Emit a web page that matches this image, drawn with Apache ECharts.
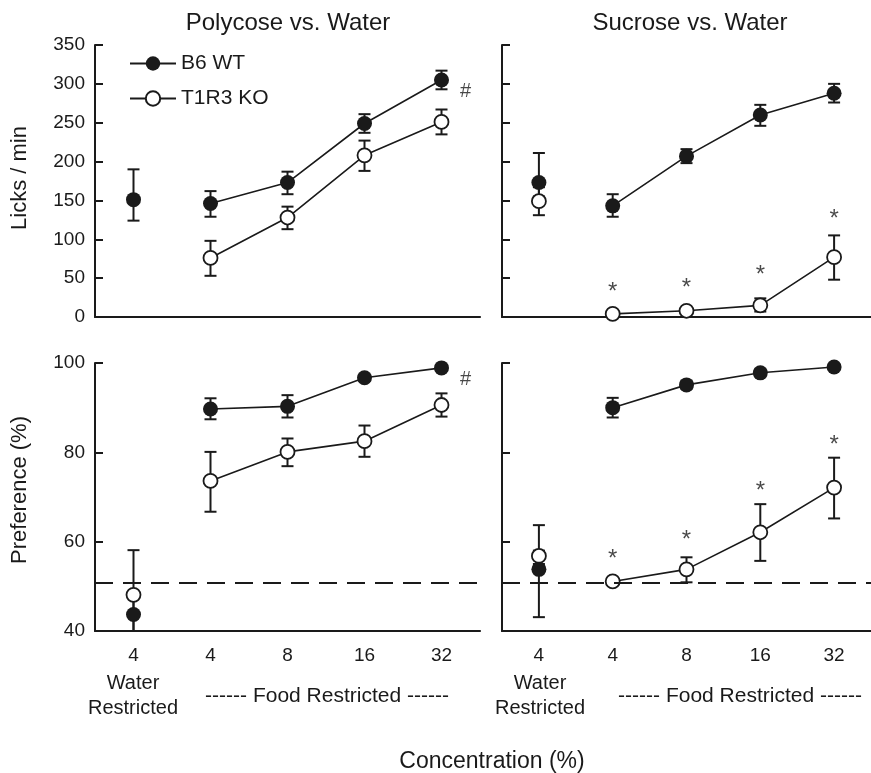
<!DOCTYPE html>
<html>
<head>
<meta charset="utf-8">
<script src="https://cdn.jsdelivr.net/npm/echarts@6/dist/echarts.min.js"></script>
<style>
  html, body { margin: 0; padding: 0; background: #fff; }
  #main { width: 871px; height: 773px; }
</style>
</head>
<body>
<div id="main"></div>
<script>
// categories: first is water restricted, the rest food restricted
var categories = ['4', '4', '8', '16', '32'];

// Polycose vs. Water, licks / min
var polyLicksWT = [151, 146, 173, 249, 305];
var polyLicksWTErr = [[124, 190], [129, 162], [158, 187], [237, 261], [293, 317]];
var polyLicksKO = [null, 76, 128, 208, 251];
var polyLicksKOErr = [null, [53, 98], [113, 142], [188, 227], [235, 267]];
var polyLicksHash = [null, null, null, null, 290];

// Sucrose vs. Water, licks / min
var sucLicksWT = [173, 143, 207, 260, 288];
var sucLicksWTErr = [[155, 211], [129, 158], [198, 216], [246, 273], [276, 300]];
var sucLicksKO = [149, 4, 8, 15, 77];
var sucLicksKOErr = [[131, 167], [2, 6], [5, 10], [7, 24], [48, 105]];
var sucLicksStars = [null, 39, 45, 61, 133];

// Polycose vs. Water, preference %
var polyPrefWT = [43.7, 89.7, 90.3, 96.7, 98.9];
var polyPrefWTErr = [[39, 48], [87.4, 92.1], [87.8, 92.8], [96, 97.4], [98.3, 99.5]];
var polyPrefKO = [48.1, 73.6, 80.1, 82.5, 90.6];
var polyPrefKOErr = [[38, 58.1], [66.7, 80.1], [76.9, 83.1], [79, 86], [88, 93.2]];
var polyPrefHash = [null, null, null, null, 96.4];

// Sucrose vs. Water, preference %
var sucPrefWT = [53.8, 90.0, 95.1, 97.8, 99.1];
var sucPrefWTErr = [[43.1, 63.7], [87.8, 92.2], [94.2, 96], [97, 98.6], [98.5, 99.7]];
var sucPrefKO = [56.8, 51.1, 53.8, 62.1, 72.1];
var sucPrefKOErr = [[55, 58], [50.5, 51.7], [50.9, 56.5], [55.7, 68.4], [65.2, 78.8]];
var sucPrefStars = [null, 57.4, 61.7, 72.5, 82.9];

var chanceLevel = 50.8;

var FONT = '"Liberation Sans", Arial, Helvetica, sans-serif';
var INK = '#1a1a1a';

var myChart = echarts.init(document.getElementById('main'));

function errRender(params, api) {
    var x = api.value(0);
    var lo = api.coord([x, api.value(1)]);
    var hi = api.coord([x, api.value(2)]);
    var w = 6;
    var st = { stroke: INK, lineWidth: 2 };
    return {
        type: 'group',
        children: [
            { type: 'line', shape: { x1: lo[0], y1: lo[1], x2: hi[0], y2: hi[1] }, style: st },
            { type: 'line', shape: { x1: lo[0] - w, y1: lo[1], x2: lo[0] + w, y2: lo[1] }, style: st },
            { type: 'line', shape: { x1: hi[0] - w, y1: hi[1], x2: hi[0] + w, y2: hi[1] }, style: st }
        ]
    };
}

function errData(arr) {
    var out = [];
    arr.forEach(function (e, i) { if (e) out.push([i, e[0], e[1]]); });
    return out;
}

function foodOnly(arr) {
    return arr.map(function (v, i) { return i === 0 ? null : v; });
}

var wtItem = { color: INK, opacity: 1 };
var koItem = { color: '#fff', borderColor: INK, borderWidth: 1.8, opacity: 1 };

function panelSeries(g, wt, wtErr, ko, koErr, marks, markText, markOffset) {
    var s = [];
    s.push({ type: 'custom', xAxisIndex: g, yAxisIndex: g, renderItem: errRender, clip: true,
        encode: { x: 0, y: [1, 2] }, data: errData(wtErr), z: 1, silent: true });
    s.push({ type: 'custom', xAxisIndex: g, yAxisIndex: g, renderItem: errRender, clip: true,
        encode: { x: 0, y: [1, 2] }, data: errData(koErr), z: 1, silent: true });
    s.push({ name: 'B6 WT', type: 'line', xAxisIndex: g, yAxisIndex: g, data: foodOnly(wt),
        symbol: 'circle', symbolSize: 15, itemStyle: wtItem, lineStyle: { color: INK, width: 1.6 }, z: 3 });
    s.push({ name: 'T1R3 KO', type: 'line', xAxisIndex: g, yAxisIndex: g, data: foodOnly(ko),
        symbol: 'circle', symbolSize: 14, itemStyle: koItem, lineStyle: { color: INK, width: 1.6 }, z: 3 });
    if (ko[0] != null) {
        s.push({ name: 'T1R3 KO', type: 'scatter', xAxisIndex: g, yAxisIndex: g, data: [[0, ko[0]]],
            symbol: 'circle', symbolSize: 14, itemStyle: koItem, z: 3 });
    }
    if (wt[0] != null) {
        s.push({ name: 'B6 WT', type: 'scatter', xAxisIndex: g, yAxisIndex: g, data: [[0, wt[0]]],
            symbol: 'circle', symbolSize: 15, itemStyle: wtItem, z: 4 });
    }
    if (marks) {
        var md = [];
        marks.forEach(function (v, i) { if (v != null) md.push([i, v]); });
        s.push({ type: 'scatter', xAxisIndex: g, yAxisIndex: g, data: md, symbolSize: 1, silent: true,
            itemStyle: { color: 'transparent' }, z: 5,
            label: { show: true, position: 'inside', formatter: markText, offset: markOffset,
                color: INK, fontFamily: FONT, fontSize: markText === '*' ? 24 : 20 } });
    }
    return s;
}

function xAxisCfg(g, showLabels) {
    return {
        type: 'category', gridIndex: g, data: categories, boundaryGap: true,
        axisLine: { lineStyle: { color: INK, width: 2.2 } },
        axisTick: { inside: true, length: 8, alignWithLabel: true, lineStyle: { color: INK, width: 2 } },
        axisLabel: { show: showLabels, margin: 15, color: INK, fontFamily: FONT, fontSize: 19 },
        splitLine: { show: false }
    };
}

function yAxisCfg(g, min, max, interval, showLabels) {
    return {
        type: 'value', gridIndex: g, min: min, max: max, interval: interval,
        axisLine: { show: true, lineStyle: { color: INK, width: 2 } },
        axisTick: { show: true, inside: true, length: 8, lineStyle: { color: INK, width: 2 } },
        axisLabel: { show: showLabels, margin: 10, color: INK, fontFamily: FONT, fontSize: 19 },
        splitLine: { show: false }
    };
}

function txt(x, y, text, size, rot) {
    return { type: 'text', x: x, y: y, rotation: rot || 0,
        style: { text: text, fill: INK, font: size + 'px ' + FONT, textAlign: 'center', textVerticalAlign: 'middle', lineHeight: 25 } };
}

var series = [].concat(
    panelSeries(0, polyLicksWT, polyLicksWTErr, polyLicksKO, polyLicksKOErr, polyLicksHash, '#', [24, 0]),
    panelSeries(1, sucLicksWT, sucLicksWTErr, sucLicksKO, sucLicksKOErr, sucLicksStars, '*', [0, 6]),
    panelSeries(2, polyPrefWT, polyPrefWTErr, polyPrefKO, polyPrefKOErr, polyPrefHash, '#', [24, 0]),
    panelSeries(3, sucPrefWT, sucPrefWTErr, sucPrefKO, sucPrefKOErr, sucPrefStars, '*', [0, 6])
);

// chance-level dashed reference lines in the preference panels
[2, 3].forEach(function (g) {
    series.push({ type: 'line', xAxisIndex: g, yAxisIndex: g, data: [], silent: true,
        markLine: { symbol: 'none', silent: true, label: { show: false },
            lineStyle: { color: INK, width: 2, type: [18, 10] },
            data: [{ yAxis: chanceLevel }] } });
});

var option = {
    backgroundColor: '#fff',
    animation: false,
    grid: [
        { left: 95, top: 45, width: 385, height: 272 },
        { left: 502, top: 45, width: 375, height: 272 },
        { left: 95, top: 363, width: 385, height: 268 },
        { left: 502, top: 363, width: 375, height: 268 }
    ],
    xAxis: [xAxisCfg(0, false), xAxisCfg(1, false), xAxisCfg(2, true), xAxisCfg(3, true)],
    yAxis: [
        yAxisCfg(0, 0, 350, 50, true),
        yAxisCfg(1, 0, 350, 50, false),
        yAxisCfg(2, 40, 100, 20, true),
        yAxisCfg(3, 40, 100, 20, false)
    ],
    legend: {
        data: ['B6 WT', 'T1R3 KO'],
        orient: 'vertical', left: 124, top: 48,
        itemWidth: 46, itemHeight: 18, itemGap: 14,
        textStyle: { color: INK, fontFamily: FONT, fontSize: 21 },
        selectedMode: false
    },
    graphic: [
        txt(288, 23, 'Polycose vs. Water', 24),
        txt(690, 23, 'Sucrose vs. Water', 24),
        txt(20, 178, 'Licks / min', 22, Math.PI / 2),
        txt(20, 490, 'Preference (%)', 22, Math.PI / 2),
        txt(133, 696, 'Water\nRestricted', 20),
        txt(540, 696, 'Water\nRestricted', 20),
        txt(327, 696, '------ Food Restricted ------', 21),
        txt(740, 696, '------ Food Restricted ------', 21),
        txt(492, 762, 'Concentration (%)', 23)
    ],
    series: series
};

myChart.setOption(option);
</script>
</body>
</html>
